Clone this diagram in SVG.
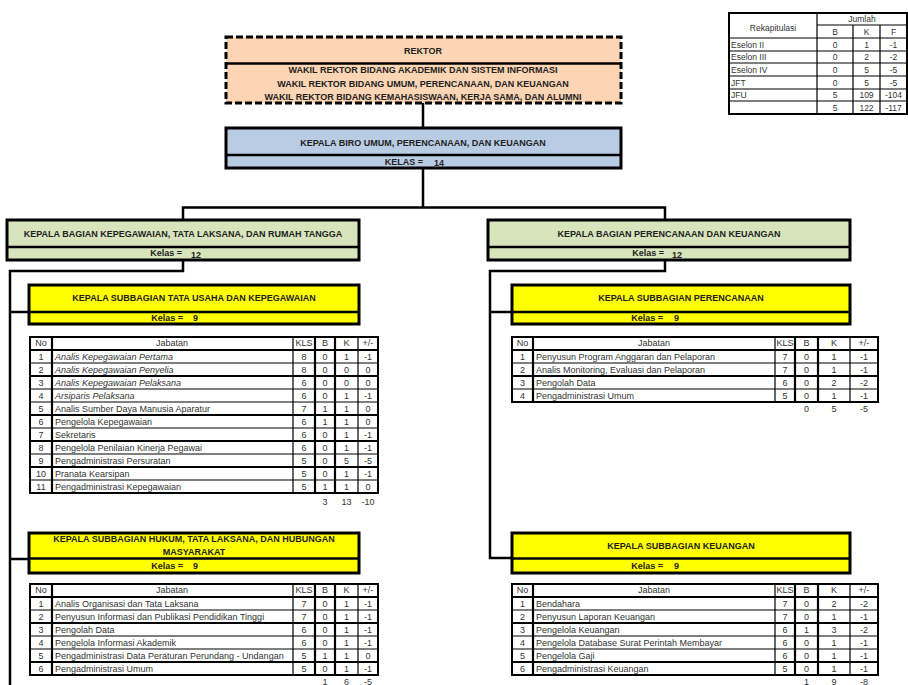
<svg xmlns="http://www.w3.org/2000/svg" width="908" height="685" viewBox="0 0 908 685">
<style>
text{font-family:"Liberation Sans",Arial,sans-serif;fill:#222}
.t{font-size:9px;font-weight:bold;text-anchor:middle}
.c{font-size:9px;text-anchor:middle;fill:#333}
.l{font-size:9px;fill:#333}
.i{font-style:italic}
.r{font-size:8.5px;fill:#333}
.rc{font-size:8.5px;fill:#333;text-anchor:middle}
.conn{stroke:#000;stroke-width:2.5;fill:none}
.box{stroke:#000;stroke-width:3}
.div{stroke:#000;stroke-width:2.5}
.tb{fill:#fff;stroke:#000;stroke-width:2}
.th{stroke:#000;stroke-width:2.2;fill:none}
.tn{stroke:#000;stroke-width:1.2;fill:none}
</style>
<rect width="908" height="685" fill="#fff"/>

<g id="connectors">
<path class="conn" d="M423,103 V128"/>
<path class="conn" d="M423,168 V207.5 M183,220 V207.5 H665 V220"/>
<path class="conn" d="M183,260 V271 H10 V685 M10,312 H29 M10,559 H29"/>
<path class="conn" d="M665,260 V271 H490 V558 H512 M490,312 H512"/>
</g>

<g id="rekap">
<rect x="729" y="13" width="178" height="101" class="tb"/>
<path class="tn" d="M817,13 V114 M853,25 V114 M880,25 V114 M817,25 H907 M729,38 H907 M729,51 H907 M729,63 H907 M729,76 H907 M729,89 H907 M729,101 H907"/>
<text class="rc" x="773" y="31">Rekapitulasi</text>
<text class="rc" x="862" y="22">Jumlah</text>
<text class="rc" x="835" y="34.5">B</text><text class="rc" x="866.5" y="34.5">K</text><text class="rc" x="893.5" y="34.5">F</text>
<text class="r" x="731" y="47.5">Eselon II</text><text class="rc" x="835" y="47.5">0</text><text class="rc" x="866.5" y="47.5">1</text><text class="rc" x="893.5" y="47.5">-1</text>
<text class="r" x="731" y="60">Eselon III</text><text class="rc" x="835" y="60">0</text><text class="rc" x="866.5" y="60">2</text><text class="rc" x="893.5" y="60">-2</text>
<text class="r" x="731" y="72.5">Eselon IV</text><text class="rc" x="835" y="72.5">0</text><text class="rc" x="866.5" y="72.5">5</text><text class="rc" x="893.5" y="72.5">-5</text>
<text class="r" x="731" y="85.5">JFT</text><text class="rc" x="835" y="85.5">0</text><text class="rc" x="866.5" y="85.5">5</text><text class="rc" x="893.5" y="85.5">-5</text>
<text class="r" x="731" y="98">JFU</text><text class="rc" x="835" y="98">5</text><text class="rc" x="866.5" y="98">109</text><text class="rc" x="893.5" y="98">-104</text>
<text class="rc" x="835" y="110.5">5</text><text class="rc" x="866.5" y="110.5">122</text><text class="rc" x="893.5" y="110.5">-117</text>
</g>

<g id="rektor">
<rect x="226" y="37" width="395" height="66" fill="#fcd5b4" stroke="#000" stroke-width="3" stroke-dasharray="7 3"/>
<line x1="226" y1="63.5" x2="621" y2="63.5" class="div"/>
<text class="t" x="423" y="54">REKTOR</text>
<text class="t" x="423" y="73">WAKIL REKTOR BIDANG AKADEMIK DAN SISTEM INFORMASI</text>
<text class="t" x="423" y="86.5">WAKIL REKTOR BIDANG UMUM, PERENCANAAN, DAN KEUANGAN</text>
<text class="t" x="423" y="100">WAKIL REKTOR BIDANG KEMAHASISWAAN, KERJA SAMA, DAN ALUMNI</text>
</g>

<g id="biro">
<rect x="226" y="128" width="395" height="40" fill="#b8cce4" class="box"/>
<line x1="226" y1="155" x2="621" y2="155" class="div"/>
<text class="t" x="423" y="146">KEPALA BIRO UMUM, PERENCANAAN, DAN KEUANGAN</text>
<text class="t" x="423" y="164.5" style="text-anchor:end">KELAS =</text>
<text class="t" x="434" y="166" style="text-anchor:start">14</text>
</g>

<g id="bagian-kepegawaian">
<rect x="7" y="220" width="352" height="40" fill="#d8e4bc" class="box"/>
<line x1="7" y1="247" x2="359" y2="247" class="div"/>
<text class="t" x="183" y="236.5">KEPALA BAGIAN KEPEGAWAIAN, TATA LAKSANA, DAN RUMAH TANGGA</text>
<text class="t" x="182" y="256" style="text-anchor:end">Kelas =</text>
<text class="t" x="191" y="257.5" style="text-anchor:start">12</text>
</g>

<g id="bagian-perencanaan">
<rect x="488" y="220" width="362" height="40" fill="#d8e4bc" class="box"/>
<line x1="488" y1="247" x2="850" y2="247" class="div"/>
<text class="t" x="669" y="236.5">KEPALA BAGIAN PERENCANAAN DAN KEUANGAN</text>
<text class="t" x="664" y="256" style="text-anchor:end">Kelas =</text>
<text class="t" x="672" y="257.5" style="text-anchor:start">12</text>
</g>

<g id="subbag-tu">
<rect x="29" y="285" width="330" height="39" fill="#ffff00" class="box"/>
<line x1="29" y1="312" x2="359" y2="312" class="div"/>
<text class="t" x="194" y="301">KEPALA SUBBAGIAN TATA USAHA DAN KEPEGAWAIAN</text>
<text class="t" x="183" y="321" style="text-anchor:end">Kelas =</text>
<text class="t" x="193" y="321" style="text-anchor:start">9</text>
</g>

<g id="subbag-perencanaan">
<rect x="512" y="285" width="338" height="39" fill="#ffff00" class="box"/>
<line x1="512" y1="312" x2="850" y2="312" class="div"/>
<text class="t" x="681" y="301">KEPALA SUBBAGIAN PERENCANAAN</text>
<text class="t" x="663" y="321" style="text-anchor:end">Kelas =</text>
<text class="t" x="674" y="321" style="text-anchor:start">9</text>
</g>

<g id="subbag-hukum">
<rect x="29" y="533" width="330" height="40" fill="#ffff00" class="box"/>
<line x1="29" y1="558.5" x2="359" y2="558.5" class="div"/>
<text class="t" x="194" y="541.5">KEPALA SUBBAGIAN HUKUM, TATA LAKSANA, DAN HUBUNGAN</text>
<text class="t" x="194" y="554.5">MASYARAKAT</text>
<text class="t" x="183" y="569" style="text-anchor:end">Kelas =</text>
<text class="t" x="193" y="569" style="text-anchor:start">9</text>
</g>

<g id="subbag-keuangan">
<rect x="512" y="533" width="338" height="40" fill="#ffff00" class="box"/>
<line x1="512" y1="558.5" x2="850" y2="558.5" class="div"/>
<text class="t" x="681" y="549">KEPALA SUBBAGIAN KEUANGAN</text>
<text class="t" x="663" y="569" style="text-anchor:end">Kelas =</text>
<text class="t" x="674" y="569" style="text-anchor:start">9</text>
</g>

<g id="tabel-tu">
<rect x="30" y="337" width="348" height="156" class="tb"/>
<path class="th" d="M52,337 V493 M315,337 V493 M335,337 V493 M30,350 H378 M30,376 H378 M30,415 H378 M30,441 H378 M30,467 H378"/>
<path class="tn" d="M293,337 V493 M358,337 V493 M30,363 H378 M30,389 H378 M30,402 H378 M30,428 H378 M30,454 H378 M30,480 H378"/>
<text class="c" x="41" y="346">No</text><text class="c" x="172" y="346">Jabatan</text><text class="c" x="304" y="346">KLS</text><text class="c" x="325" y="346">B</text><text class="c" x="346.5" y="346">K</text><text class="c" x="368" y="346">+/-</text>
<text class="c" x="41" y="360">1</text><text class="l i" x="55" y="360">Analis Kepegawaian Pertama</text><text class="c" x="304" y="360">8</text><text class="c" x="325" y="360">0</text><text class="c" x="346.5" y="360">1</text><text class="c" x="368" y="360">-1</text>
<text class="c" x="41" y="373">2</text><text class="l i" x="55" y="373">Analis Kepegawaian Penyelia</text><text class="c" x="304" y="373">8</text><text class="c" x="325" y="373">0</text><text class="c" x="346.5" y="373">0</text><text class="c" x="368" y="373">0</text>
<text class="c" x="41" y="386">3</text><text class="l i" x="55" y="386">Analis Kepegawaian Pelaksana</text><text class="c" x="304" y="386">6</text><text class="c" x="325" y="386">0</text><text class="c" x="346.5" y="386">0</text><text class="c" x="368" y="386">0</text>
<text class="c" x="41" y="399">4</text><text class="l i" x="55" y="399">Arsiparis Pelaksana</text><text class="c" x="304" y="399">6</text><text class="c" x="325" y="399">0</text><text class="c" x="346.5" y="399">1</text><text class="c" x="368" y="399">-1</text>
<text class="c" x="41" y="412">5</text><text class="l" x="55" y="412">Analis Sumber Daya Manusia Aparatur</text><text class="c" x="304" y="412">7</text><text class="c" x="325" y="412">1</text><text class="c" x="346.5" y="412">1</text><text class="c" x="368" y="412">0</text>
<text class="c" x="41" y="425">6</text><text class="l" x="55" y="425">Pengelola Kepegawaian</text><text class="c" x="304" y="425">6</text><text class="c" x="325" y="425">1</text><text class="c" x="346.5" y="425">1</text><text class="c" x="368" y="425">0</text>
<text class="c" x="41" y="438">7</text><text class="l" x="55" y="438">Sekretaris</text><text class="c" x="304" y="438">6</text><text class="c" x="325" y="438">0</text><text class="c" x="346.5" y="438">1</text><text class="c" x="368" y="438">-1</text>
<text class="c" x="41" y="451">8</text><text class="l" x="55" y="451">Pengelola Penilaian Kinerja Pegawai</text><text class="c" x="304" y="451">6</text><text class="c" x="325" y="451">0</text><text class="c" x="346.5" y="451">1</text><text class="c" x="368" y="451">-1</text>
<text class="c" x="41" y="464">9</text><text class="l" x="55" y="464">Pengadministrasi Persuratan</text><text class="c" x="304" y="464">5</text><text class="c" x="325" y="464">0</text><text class="c" x="346.5" y="464">5</text><text class="c" x="368" y="464">-5</text>
<text class="c" x="41" y="477">10</text><text class="l" x="55" y="477">Pranata Kearsipan</text><text class="c" x="304" y="477">5</text><text class="c" x="325" y="477">0</text><text class="c" x="346.5" y="477">1</text><text class="c" x="368" y="477">-1</text>
<text class="c" x="41" y="490">11</text><text class="l" x="55" y="490">Pengadministrasi Kepegawaian</text><text class="c" x="304" y="490">5</text><text class="c" x="325" y="490">1</text><text class="c" x="346.5" y="490">1</text><text class="c" x="368" y="490">0</text>
<text class="c" x="325" y="505">3</text><text class="c" x="346.5" y="505">13</text><text class="c" x="368" y="505">-10</text>
</g>

<g id="tabel-perencanaan">
<rect x="512" y="337" width="366" height="65" class="tb"/>
<path class="th" d="M533,337 V402 M795,337 V402 M818,337 V402 M512,350 H878 M512,376 H878"/>
<path class="tn" d="M775,337 V402 M850,337 V402 M512,363 H878 M512,389 H878"/>
<text class="c" x="522.5" y="346">No</text><text class="c" x="654" y="346">Jabatan</text><text class="c" x="785" y="346">KLS</text><text class="c" x="806.5" y="346">B</text><text class="c" x="834" y="346">K</text><text class="c" x="864" y="346">+/-</text>
<text class="c" x="522.5" y="360">1</text><text class="l" x="536" y="360">Penyusun Program Anggaran dan Pelaporan</text><text class="c" x="785" y="360">7</text><text class="c" x="806.5" y="360">0</text><text class="c" x="834" y="360">1</text><text class="c" x="864" y="360">-1</text>
<text class="c" x="522.5" y="373">2</text><text class="l" x="536" y="373">Analis Monitoring, Evaluasi dan Pelaporan</text><text class="c" x="785" y="373">7</text><text class="c" x="806.5" y="373">0</text><text class="c" x="834" y="373">1</text><text class="c" x="864" y="373">-1</text>
<text class="c" x="522.5" y="386">3</text><text class="l" x="536" y="386">Pengolah Data</text><text class="c" x="785" y="386">6</text><text class="c" x="806.5" y="386">0</text><text class="c" x="834" y="386">2</text><text class="c" x="864" y="386">-2</text>
<text class="c" x="522.5" y="399">4</text><text class="l" x="536" y="399">Pengadministrasi Umum</text><text class="c" x="785" y="399">5</text><text class="c" x="806.5" y="399">0</text><text class="c" x="834" y="399">1</text><text class="c" x="864" y="399">-1</text>
<text class="c" x="806.5" y="412">0</text><text class="c" x="834" y="412">5</text><text class="c" x="864" y="412">-5</text>
</g>

<g id="tabel-hukum">
<rect x="30" y="584" width="348" height="91" class="tb"/>
<path class="th" d="M52,584 V675 M315,584 V675 M335,584 V675 M30,597 H378 M30,623 H378 M30,662 H378"/>
<path class="tn" d="M293,584 V675 M358,584 V675 M30,610 H378 M30,636 H378 M30,649 H378"/>
<text class="c" x="41" y="593">No</text><text class="c" x="172" y="593">Jabatan</text><text class="c" x="304" y="593">KLS</text><text class="c" x="325" y="593">B</text><text class="c" x="346.5" y="593">K</text><text class="c" x="368" y="593">+/-</text>
<text class="c" x="41" y="607">1</text><text class="l" x="55" y="607">Analis Organisasi dan Tata Laksana</text><text class="c" x="304" y="607">7</text><text class="c" x="325" y="607">0</text><text class="c" x="346.5" y="607">1</text><text class="c" x="368" y="607">-1</text>
<text class="c" x="41" y="620">2</text><text class="l" x="55" y="620">Penyusun Informasi dan Publikasi Pendidikan Tinggi</text><text class="c" x="304" y="620">7</text><text class="c" x="325" y="620">0</text><text class="c" x="346.5" y="620">1</text><text class="c" x="368" y="620">-1</text>
<text class="c" x="41" y="633">3</text><text class="l" x="55" y="633">Pengolah Data</text><text class="c" x="304" y="633">6</text><text class="c" x="325" y="633">0</text><text class="c" x="346.5" y="633">1</text><text class="c" x="368" y="633">-1</text>
<text class="c" x="41" y="646">4</text><text class="l" x="55" y="646">Pengelola Informasi Akademik</text><text class="c" x="304" y="646">6</text><text class="c" x="325" y="646">0</text><text class="c" x="346.5" y="646">1</text><text class="c" x="368" y="646">-1</text>
<text class="c" x="41" y="659">5</text><text class="l" x="55" y="659">Pengadministrasi Data Peraturan Perundang - Undangan</text><text class="c" x="304" y="659">5</text><text class="c" x="325" y="659">1</text><text class="c" x="346.5" y="659">1</text><text class="c" x="368" y="659">0</text>
<text class="c" x="41" y="672">6</text><text class="l" x="55" y="672">Pengadministrasi Umum</text><text class="c" x="304" y="672">5</text><text class="c" x="325" y="672">0</text><text class="c" x="346.5" y="672">1</text><text class="c" x="368" y="672">-1</text>
<text class="c" x="325" y="684.5">1</text><text class="c" x="346.5" y="684.5">6</text><text class="c" x="368" y="684.5">-5</text>
</g>

<g id="tabel-keuangan">
<rect x="512" y="584" width="366" height="91" class="tb"/>
<path class="th" d="M533,584 V675 M795,584 V675 M818,584 V675 M512,597 H878 M512,623 H878 M512,662 H878"/>
<path class="tn" d="M775,584 V675 M850,584 V675 M512,610 H878 M512,636 H878 M512,649 H878"/>
<text class="c" x="522.5" y="593">No</text><text class="c" x="654" y="593">Jabatan</text><text class="c" x="785" y="593">KLS</text><text class="c" x="806.5" y="593">B</text><text class="c" x="834" y="593">K</text><text class="c" x="864" y="593">+/-</text>
<text class="c" x="522.5" y="607">1</text><text class="l" x="536" y="607">Bendahara</text><text class="c" x="785" y="607">7</text><text class="c" x="806.5" y="607">0</text><text class="c" x="834" y="607">2</text><text class="c" x="864" y="607">-2</text>
<text class="c" x="522.5" y="620">2</text><text class="l" x="536" y="620">Penyusun Laporan Keuangan</text><text class="c" x="785" y="620">7</text><text class="c" x="806.5" y="620">0</text><text class="c" x="834" y="620">1</text><text class="c" x="864" y="620">-1</text>
<text class="c" x="522.5" y="633">3</text><text class="l" x="536" y="633">Pengelola Keuangan</text><text class="c" x="785" y="633">6</text><text class="c" x="806.5" y="633">1</text><text class="c" x="834" y="633">3</text><text class="c" x="864" y="633">-2</text>
<text class="c" x="522.5" y="646">4</text><text class="l" x="536" y="646">Pengelola Database Surat Perintah Membayar</text><text class="c" x="785" y="646">6</text><text class="c" x="806.5" y="646">0</text><text class="c" x="834" y="646">1</text><text class="c" x="864" y="646">-1</text>
<text class="c" x="522.5" y="659">5</text><text class="l" x="536" y="659">Pengelola Gaji</text><text class="c" x="785" y="659">6</text><text class="c" x="806.5" y="659">0</text><text class="c" x="834" y="659">1</text><text class="c" x="864" y="659">-1</text>
<text class="c" x="522.5" y="672">6</text><text class="l" x="536" y="672">Pengadministrasi Keuangan</text><text class="c" x="785" y="672">5</text><text class="c" x="806.5" y="672">0</text><text class="c" x="834" y="672">1</text><text class="c" x="864" y="672">-1</text>
<text class="c" x="806.5" y="684.5">1</text><text class="c" x="834" y="684.5">9</text><text class="c" x="864" y="684.5">-8</text>
</g>
</svg>
